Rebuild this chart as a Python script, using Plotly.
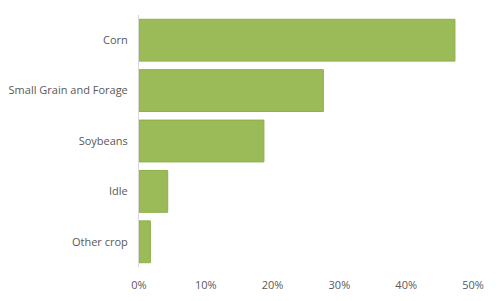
import plotly.graph_objects as go

categories = ["Corn", "Small Grain and Forage", "Soybeans", "Idle", "Other crop"]
values = [47.3, 27.6, 18.7, 4.3, 1.7]
x_ticks = [0, 10, 20, 30, 40, 50]
x_tick_labels = ["0%", "10%", "20%", "30%", "40%", "50%"]

fig = go.Figure(go.Bar(
    y=categories,
    x=values,
    orientation="h",
    marker=dict(color="#9BBB59", line=dict(color="#8DB046", width=1)),
    hoverinfo="skip",
))

fig.update_layout(
    width=500, height=301,
    margin=dict(l=139, r=27, t=15, b=34),
    paper_bgcolor="white", plot_bgcolor="white",
    bargap=0.17,
    showlegend=False,
    font=dict(family="Open Sans", size=11, color="#595959"),
)
fig.update_yaxes(
    categoryorder="array", categoryarray=categories[::-1],
    showgrid=False, showline=True, linecolor="#D9D9D9", linewidth=1,
    ticks="", ticklabelstandoff=8, automargin=False,
)
fig.update_xaxes(
    range=[0, 50], tickvals=x_ticks, ticktext=x_tick_labels,
    showgrid=False, zeroline=False, showline=False, ticks="",
    ticklabelstandoff=10, automargin=False,
)

fig.write_html("out.html")
